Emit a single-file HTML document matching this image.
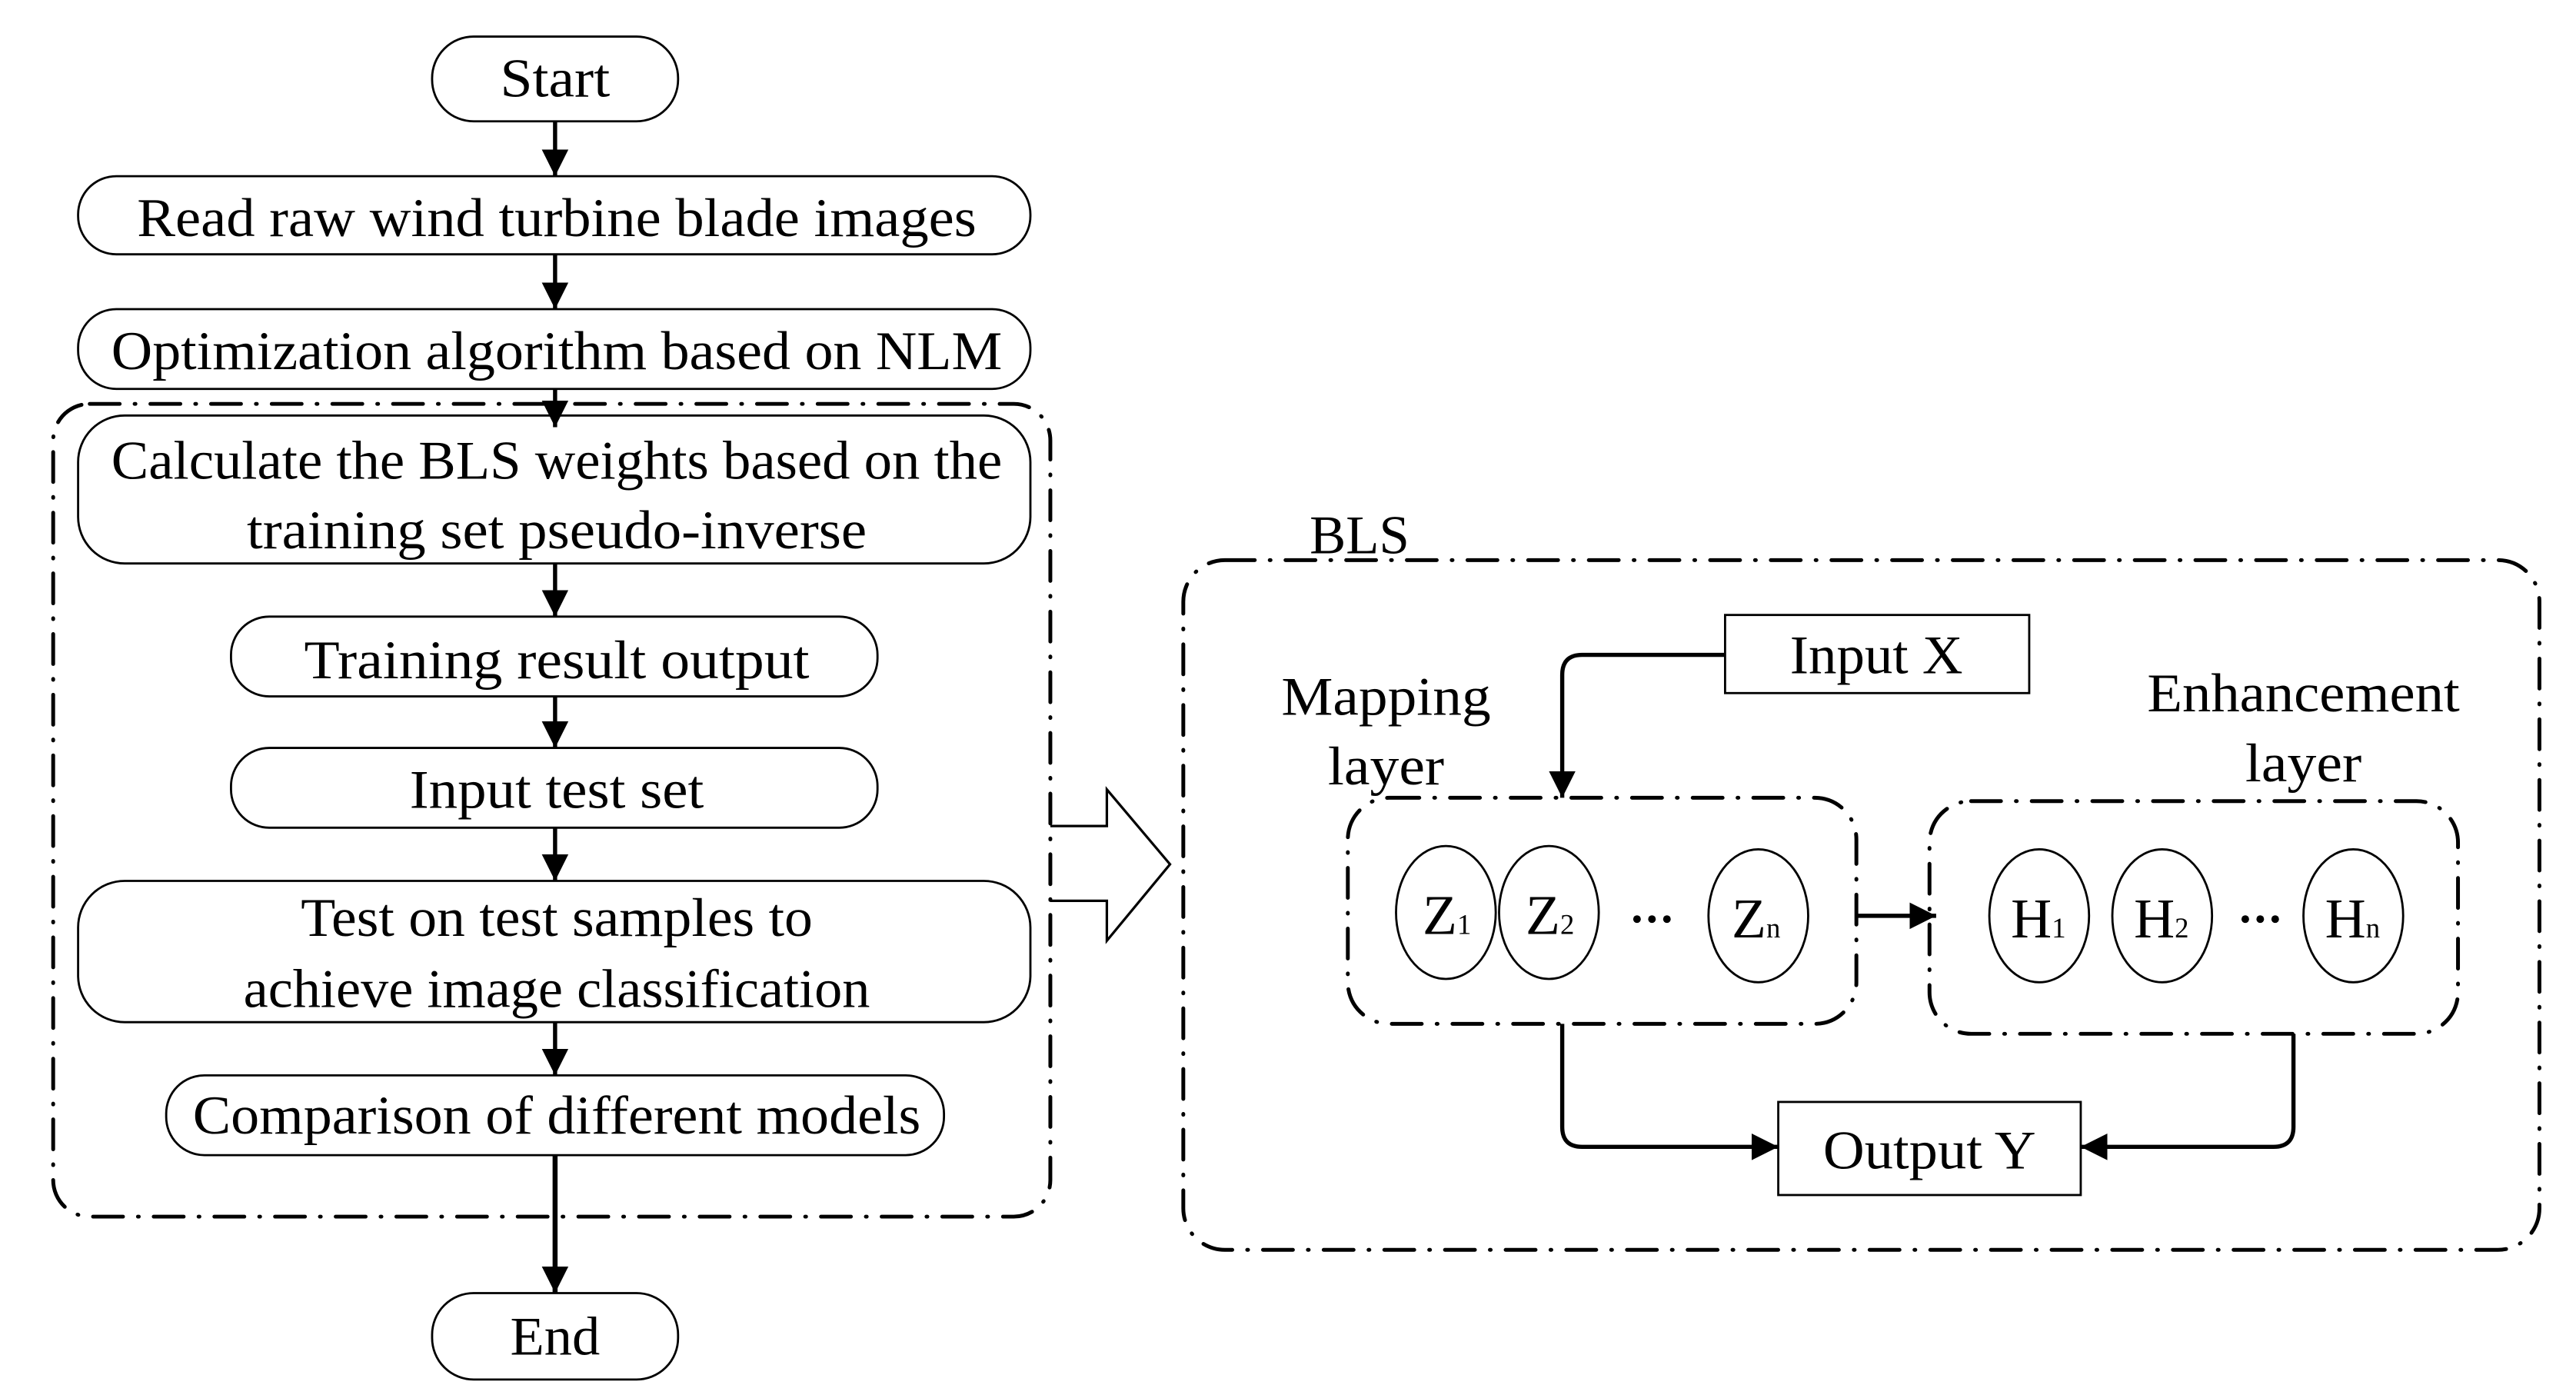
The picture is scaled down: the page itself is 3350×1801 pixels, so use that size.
<!DOCTYPE html>
<html><head><meta charset="utf-8"><style>
html,body{margin:0;padding:0;background:#fff;}
svg{display:block;}
text{font-family:"Liberation Serif",serif;fill:#000;}
</style></head><body>
<svg width="3350" height="1801" viewBox="0 0 1550 833.3" xmlns="http://www.w3.org/2000/svg">
<defs>
<marker id="ah" markerWidth="16" markerHeight="20" viewBox="0 0 16 20" refX="16" refY="10" orient="auto" markerUnits="userSpaceOnUse">
<path d="M0,2 L16,10 L0,18 Z" fill="#000"/>
</marker>
</defs>
<g fill="none" stroke="#000" stroke-width="1.3">
<rect x="260" y="22" width="148" height="51" rx="25"/>
<rect x="47" y="106" width="573" height="47" rx="23"/>
<rect x="47" y="186" width="573" height="48" rx="23"/>
<rect x="47" y="250" width="573" height="89" rx="28"/>
<rect x="139" y="371" width="389" height="48" rx="23"/>
<rect x="139" y="450" width="389" height="48" rx="23"/>
<rect x="47" y="530" width="573" height="85" rx="28"/>
<rect x="100" y="647" width="468" height="48" rx="23"/>
<rect x="260" y="778" width="148" height="52" rx="25"/>
<rect x="1038" y="370" width="183" height="47"/>
<rect x="1070" y="663" width="182" height="56"/>
<ellipse cx="870" cy="549" rx="30" ry="40"/>
<ellipse cx="932" cy="549" rx="30" ry="40"/>
<ellipse cx="1058" cy="551" rx="30" ry="40"/>
<ellipse cx="1227" cy="551" rx="30" ry="40"/>
<ellipse cx="1301" cy="551" rx="30" ry="40"/>
<ellipse cx="1416" cy="551" rx="30" ry="40"/>
<path d="M632,497 L666,497 L666,475 L704,520 L666,566 L666,542 L632,542" stroke-width="1.5"/>
</g>
<g fill="none" stroke="#000" stroke-width="2.3" stroke-dasharray="18 9 0.5 9" stroke-linecap="round">
<rect x="32" y="243" width="600" height="489" rx="22"/>
<rect x="712" y="337" width="816" height="415" rx="25"/>
<rect x="811" y="480" width="306" height="136" rx="25"/>
<rect x="1161" y="482" width="318" height="140" rx="25"/>
</g>
<g fill="none" stroke="#000" stroke-width="2.5" marker-end="url(#ah)">
<line x1="334" y1="73" x2="334" y2="106"/>
<line x1="334" y1="153" x2="334" y2="186"/>
<line x1="334" y1="234" x2="334" y2="257"/>
<line x1="334" y1="339" x2="334" y2="371"/>
<line x1="334" y1="419" x2="334" y2="450"/>
<line x1="334" y1="498" x2="334" y2="530"/>
<line x1="334" y1="615" x2="334" y2="647"/>
<line x1="334" y1="695" x2="334" y2="778" stroke-width="3"/>
<line x1="1117" y1="551" x2="1165" y2="551"/>
<path d="M1038,394 L952,394 Q940,394 940,406 L940,480"/>
<path d="M940,616 L940,678 Q940,690 952,690 L1070,690"/>
<path d="M1380,622 L1380,678 Q1380,690 1368,690 L1252,690"/>
</g>
<g font-size="33" text-anchor="middle">
<text x="334" y="58" textLength="66" lengthAdjust="spacingAndGlyphs">Start</text>
<text x="335" y="142" textLength="505" lengthAdjust="spacingAndGlyphs">Read raw wind turbine blade images</text>
<text x="335" y="222" textLength="536" lengthAdjust="spacingAndGlyphs">Optimization algorithm based on NLM</text>
<text x="335" y="288" textLength="536" lengthAdjust="spacingAndGlyphs">Calculate the BLS weights based on the</text>
<text x="335" y="330" textLength="373" lengthAdjust="spacingAndGlyphs">training set pseudo-inverse</text>
<text x="335" y="408" textLength="304" lengthAdjust="spacingAndGlyphs">Training result output</text>
<text x="335" y="486" textLength="177" lengthAdjust="spacingAndGlyphs">Input test set</text>
<text x="335" y="563" textLength="308" lengthAdjust="spacingAndGlyphs">Test on test samples to</text>
<text x="335" y="606" textLength="377" lengthAdjust="spacingAndGlyphs">achieve image classification</text>
<text x="335" y="682" textLength="438" lengthAdjust="spacingAndGlyphs">Comparison of different models</text>
<text x="334" y="815" textLength="54" lengthAdjust="spacingAndGlyphs">End</text>
<text x="818" y="333" textLength="60" lengthAdjust="spacingAndGlyphs">BLS</text>
<text x="1129" y="405" textLength="104" lengthAdjust="spacingAndGlyphs">Input X</text>
<text x="1161" y="703" textLength="128" lengthAdjust="spacingAndGlyphs">Output Y</text>
<text x="834" y="430" textLength="126" lengthAdjust="spacingAndGlyphs">Mapping</text>
<text x="834" y="472" textLength="70" lengthAdjust="spacingAndGlyphs">layer</text>
<text x="1386" y="428" textLength="188" lengthAdjust="spacingAndGlyphs">Enhancement</text>
<text x="1386" y="470" textLength="70" lengthAdjust="spacingAndGlyphs">layer</text>
</g>
<g font-size="34">
<text x="856" y="562">Z<tspan font-size="17">1</tspan></text>
<text x="918" y="562">Z<tspan font-size="17">2</tspan></text>
<text x="1042" y="564">Z<tspan font-size="17">n</tspan></text>
<text x="1210" y="564">H<tspan font-size="17">1</tspan></text>
<text x="1284" y="564">H<tspan font-size="17">2</tspan></text>
<text x="1399" y="564">H<tspan font-size="17">n</tspan></text>
</g>
<g fill="#000">
<circle cx="985" cy="553" r="2.3"/><circle cx="994" cy="553" r="2.3"/><circle cx="1003" cy="553" r="2.3"/>
<circle cx="1351" cy="553" r="2.3"/><circle cx="1360" cy="553" r="2.3"/><circle cx="1369" cy="553" r="2.3"/>
</g>
</svg>
</body></html>
